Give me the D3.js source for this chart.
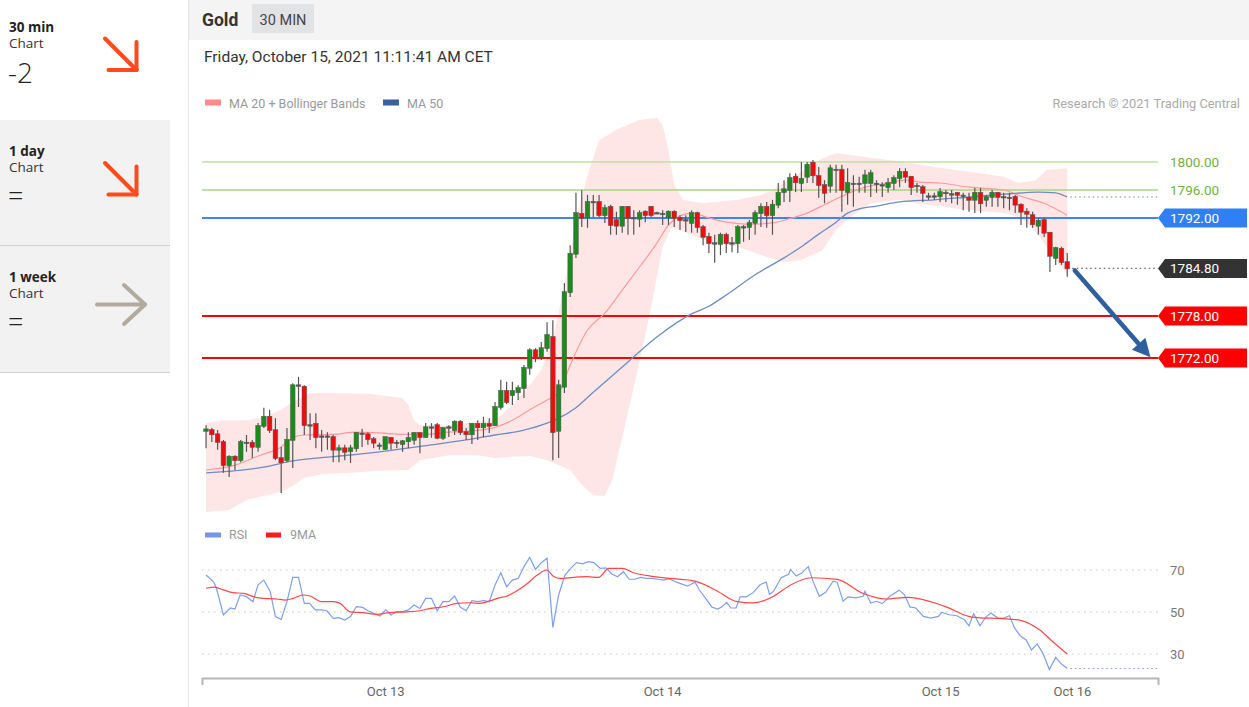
<!DOCTYPE html>
<html><head><meta charset="utf-8">
<script src="https://cdn.jsdelivr.net/npm/d3@7"></script>
<style>html,body{margin:0;padding:0;background:#fff;}svg{display:block;}</style>
</head><body>
<svg id="c" width="1249" height="707"></svg>
<script>
// ---------- DATA ----------
const candleOpen = [1761.6,1761.7,1761.1,1760.0,1756.7,1757.9,1757.4,1759.9,1759.9,1759.3,
1762.3,1763.6,1761.7,1757.7,1757.4,1760.3,1768.1,1767.9,1762.4,1762.6,
1760.8,1760.8,1760.7,1758.9,1759.1,1758.7,1759.1,1761.2,1761.1,1760.4,
1759.5,1759.0,1760.6,1759.9,1759.7,1760.1,1760.3,1761.3,1760.7,1762.1,
1762.4,1760.6,1762.1,1761.7,1762.9,1761.4,1761.1,1762.6,1762.1,1762.6,
1762.4,1765.0,1767.3,1766.7,1767.1,1767.7,1770.6,1773.1,1772.1,1773.4,
1775.0,1761.6,1767.9,1781.4,1786.9,1792.6,1792.1,1794.3,1794.3,1792.4,
1793.6,1791.7,1790.9,1793.6,1792.0,1791.9,1792.9,1793.6,1792.7,1792.6,
1792.1,1792.9,1792.0,1791.7,1791.3,1792.7,1790.7,1789.3,1788.4,1788.3,
1789.6,1788.4,1788.4,1790.7,1790.7,1791.3,1792.7,1793.6,1792.4,1793.9,
1795.7,1796.0,1797.9,1797.0,1797.9,1799.9,1798.0,1796.7,1796.6,1798.9,
1798.9,1795.7,1796.9,1796.9,1797.0,1797.0,1796.9,1796.7,1796.4,1797.0,
1797.7,1798.6,1797.9,1796.6,1796.4,1795.1,1795.1,1795.1,1795.6,1795.4,
1795.6,1795.2,1794.9,1794.6,1795.6,1794.6,1795.0,1795.6,1795.0,1794.9,
1795.0,1793.9,1792.9,1792.4,1790.9,1791.7,1789.9,1786.3,1787.6,1785.7];
const candleHigh = [1762.4,1762.0,1761.7,1760.3,1758.1,1758.1,1760.3,1761.0,1760.3,1762.7,
1764.9,1764.6,1763.4,1759.3,1762.0,1768.4,1769.3,1768.1,1764.1,1764.1,
1761.7,1761.4,1761.0,1759.6,1759.6,1759.6,1761.4,1761.9,1761.4,1760.7,
1759.9,1760.7,1760.7,1760.3,1760.3,1761.4,1761.4,1761.4,1762.7,1762.7,
1762.7,1762.1,1762.4,1763.1,1763.1,1762.0,1762.7,1763.1,1763.6,1763.4,
1765.7,1768.9,1768.6,1768.6,1768.1,1771.0,1773.4,1773.4,1774.3,1777.1,
1777.4,1768.9,1782.7,1788.1,1795.6,1796.0,1795.3,1795.3,1795.3,1793.9,
1793.9,1792.9,1793.7,1793.7,1793.1,1793.1,1793.1,1793.7,1792.9,1793.1,
1793.1,1793.1,1792.4,1792.4,1793.1,1792.9,1791.0,1789.9,1789.6,1789.9,
1789.9,1789.3,1791.0,1791.0,1791.7,1793.1,1794.1,1794.3,1794.6,1797.0,
1797.4,1798.4,1798.4,1800.0,1800.0,1800.3,1799.3,1797.4,1799.6,1799.6,
1799.6,1799.1,1798.1,1797.9,1798.9,1798.9,1797.4,1797.1,1797.7,1798.1,
1799.1,1799.1,1797.9,1797.0,1796.7,1795.6,1795.6,1796.3,1796.0,1796.0,
1795.7,1795.6,1795.6,1796.3,1796.3,1795.3,1796.0,1795.7,1795.6,1795.6,
1795.3,1794.1,1793.4,1792.9,1792.0,1792.0,1790.0,1787.9,1787.9,1787.0];
const candleLow = [1759.1,1760.0,1758.9,1755.6,1755.0,1756.0,1757.1,1758.6,1757.7,1758.6,
1762.0,1761.3,1757.4,1752.7,1757.1,1756.3,1765.0,1761.0,1760.3,1759.1,
1758.6,1758.9,1757.1,1757.1,1757.4,1757.0,1758.6,1759.3,1759.6,1759.1,
1758.9,1758.9,1758.9,1759.1,1758.6,1759.1,1759.6,1758.4,1760.6,1760.6,
1760.4,1760.3,1760.7,1761.0,1761.0,1760.3,1759.7,1760.3,1760.7,1761.3,
1762.3,1764.6,1765.4,1765.3,1766.0,1766.3,1769.6,1771.4,1771.7,1772.9,
1757.4,1757.7,1767.0,1780.7,1786.3,1790.7,1790.6,1792.1,1792.1,1791.3,
1789.6,1789.6,1789.9,1789.6,1789.6,1790.7,1791.4,1792.1,1792.6,1791.0,
1791.0,1790.7,1790.3,1790.0,1789.9,1789.9,1788.1,1787.0,1785.6,1786.7,
1787.0,1787.1,1787.0,1788.6,1788.9,1789.6,1790.7,1790.6,1789.6,1793.4,
1794.3,1794.3,1795.7,1795.7,1797.0,1797.0,1794.9,1794.1,1795.6,1795.6,
1792.9,1793.9,1793.6,1795.6,1795.6,1795.0,1795.6,1795.0,1795.6,1796.0,
1796.4,1797.0,1795.3,1795.6,1794.3,1794.6,1794.6,1794.3,1794.3,1794.1,
1793.9,1793.1,1792.9,1792.7,1792.7,1793.6,1793.6,1793.6,1793.4,1793.1,
1792.7,1791.0,1790.6,1790.6,1789.6,1789.3,1784.3,1785.3,1785.3,1783.6];
const candleClose = [1761.8,1761.1,1760.0,1756.7,1757.9,1757.4,1760.0,1759.9,1759.3,1762.3,
1763.6,1761.7,1757.7,1757.1,1760.3,1768.1,1768.1,1762.4,1762.4,1760.7,
1760.8,1760.8,1758.9,1759.1,1758.6,1759.1,1761.3,1761.2,1760.4,1759.9,
1759.5,1760.7,1759.9,1759.9,1760.1,1760.6,1761.3,1760.7,1762.1,1762.1,
1760.6,1762.0,1762.1,1762.9,1761.4,1761.1,1762.6,1762.1,1762.6,1762.3,
1765.0,1767.3,1765.7,1767.3,1767.7,1770.6,1773.1,1772.1,1773.4,1775.3,
1761.4,1768.1,1781.4,1786.9,1792.7,1792.0,1794.3,1794.3,1792.4,1793.4,
1791.0,1790.9,1793.6,1792.0,1792.0,1792.7,1792.4,1792.4,1792.7,1792.6,
1792.9,1792.0,1791.7,1791.7,1792.7,1790.7,1789.3,1788.4,1788.4,1789.6,
1788.4,1788.4,1790.7,1790.7,1791.3,1792.7,1793.6,1792.4,1793.9,1795.6,
1796.1,1797.7,1797.1,1797.6,1799.6,1798.1,1796.7,1795.6,1799.1,1798.9,
1796.0,1797.0,1796.9,1796.9,1798.1,1798.4,1796.9,1796.7,1797.0,1797.7,
1798.6,1797.9,1796.4,1796.6,1795.6,1795.1,1795.1,1795.7,1795.6,1795.4,
1795.3,1795.2,1794.6,1795.6,1794.1,1795.0,1795.6,1795.0,1795.0,1794.9,
1793.9,1792.9,1792.6,1791.1,1791.6,1789.9,1786.6,1787.7,1785.7,1784.8];

const ma20Idx = [0,5,9,13,15,17,22,26,30,34,38,42,46,50,53,56,59,61,63,66,69,72,75,78,80,82,84,87,90,94,98,101,104,107,110,114,118,121,124,127,132,138,141,145,149];
const ma20Val = [1756.0,1756.7,1758.0,1759.3,1760.6,1761.0,1761.1,1761.4,1761.3,1761.1,1761.1,1761.4,1761.6,1762.1,1763.1,1764.6,1766.0,1767.0,1771.0,1776.0,1778.4,1781.7,1785.0,1788.4,1791.0,1792.3,1792.7,1792.0,1791.4,1791.1,1791.3,1791.9,1792.7,1793.9,1795.1,1796.4,1797.0,1797.4,1797.1,1797.0,1796.4,1796.0,1795.1,1794.1,1792.4];

const ma50Idx = [0,10,15,22,30,39,45,50,55,59,61,64,67,72,78,84,87,90,95,100,103,106,109,111,113,116,120,126,132,138,144,147,149];
const ma50Val = [1755.6,1756.4,1757.3,1757.9,1758.6,1759.6,1760.3,1761.0,1761.7,1762.7,1763.4,1764.9,1767.1,1770.7,1775.0,1778.3,1779.4,1781.0,1783.9,1786.3,1787.9,1789.7,1791.4,1792.7,1793.3,1793.7,1794.3,1794.6,1795.0,1795.4,1795.7,1795.6,1795.0];

const bbUpIdx = [0,3,7,10,13,15,18,22,28,34,35,36,37,42,47,50,53,56,58,60,62,64,66,68,71,75,78,79,80,81,82.5,86,92,96,98,100,103,106,109,115,121,126,132,138,140.5,143.5,145.5,149];
const bbUpVal = [1762.7,1763.1,1763.1,1763.6,1764.6,1765.7,1767.0,1767.0,1766.9,1766.3,1765.3,1763.1,1762.4,1762.4,1762.9,1763.1,1765.3,1768.1,1770.3,1774.6,1782.4,1791.7,1798.1,1803.1,1804.6,1806.0,1806.3,1805.3,1801.7,1796.7,1794.6,1794.1,1794.6,1795.3,1796.0,1797.0,1798.6,1800.3,1801.3,1800.6,1800.0,1799.3,1798.6,1797.9,1797.0,1797.4,1798.9,1799.1];

const bbLoIdx = [0,4,7,10,13,15,17,20,25,30,35,37,42,47,50,53,56,59,61,63,65,67,69,70.3,71.5,72.5,74.5,76.8,79,80.5,82,86,92,96,100,103,106.6,109,111.4,115,120,123,132,138,141,144,147,149];
const bbLoVal = [1750.0,1750.3,1751.7,1752.3,1752.9,1753.7,1754.9,1755.4,1755.6,1755.9,1756.0,1757.4,1758.1,1758.1,1757.7,1757.9,1758.0,1757.4,1756.7,1756.0,1753.9,1752.4,1752.3,1754.6,1758.9,1762.4,1769.6,1778.4,1787.9,1790.6,1790.3,1788.9,1787.9,1786.7,1785.7,1786.0,1787.4,1790.3,1792.1,1794.1,1794.6,1794.1,1793.1,1792.7,1792.1,1789.6,1786.0,1783.9];

const rsiIdx = [0,1.3,1.8,3,4.2,5,5.9,7,8.1,9,10,11.1,12,13,14,15,16,17,17.9,18.9,20,20.9,22,23,24,25,26,27.1,28,29,30.1,31.1,32,33,34,35,36,37,38,39,40,41,42,43,44,45,46,47,48,49,50,51,52,53,54,55,56,57,58,59,60,61,62.1,63.1,64.1,65.2,66.1,67.1,68.2,69.2,70.2,71.2,72.2,73.2,74.2,75.2,76.2,77.3,78.2,79.1,80.1,81.4,83.3,84.6,85.3,86.6,87.5,88.5,89.2,90.1,90.8,91.7,92.4,93.5,94.6,95.9,96.9,97.5,98.2,99.5,100.8,101.1,102.1,103,104.2,105,106.1,107.2,108.5,109.2,110.2,111.1,112.4,113.7,114,115,116,117,118.3,119.9,120.8,121.8,122.8,124.1,125.4,126.7,127.3,128.6,129.9,131.2,132,132.8,133.9,134.9,135.8,137,138,139,139.9,140.9,141.9,142.8,143.8,144.8,145.9,147,148,149];
const rsiVal = [67.6,64.4,61.3,48.6,51.9,51.4,58.1,57.3,54.9,62.9,65.2,59.7,47.8,46.5,54.9,66.5,66.5,54.1,54.1,51.0,51.0,50.6,47.0,47.3,46.2,47.8,52.5,52.2,50.6,49.4,48.1,51.0,48.6,50.2,50.2,51.0,53.3,51.7,56.5,56.5,50.6,54.9,54.9,57.6,52.2,50.6,55.4,54.9,55.4,54.9,62.9,68.7,62.0,65.2,66.0,71.6,76.0,70.3,73.5,75.6,42.7,58.1,67.6,70.8,73.5,72.9,74.0,73.5,70.8,71.0,68.1,66.8,69.2,65.6,65.6,66.5,66.0,66.0,65.6,65.2,65.8,64.2,62.3,64.2,60.7,55.9,52.4,51.4,52.4,54.6,51.9,51.9,57.2,57.2,59.1,63.1,64.2,58.3,59.9,66.3,67.9,70.3,67.1,68.4,71.6,64.7,57.5,59.4,64.7,64.2,55.1,57.2,56.7,57.5,59.9,54.3,55.1,54.0,57.5,60.4,58.3,52.4,51.9,47.9,47.1,47.9,49.8,48.7,48.2,46.3,43.4,49.2,43.4,47.6,49.5,47.1,47.1,48.2,42.3,38.6,36.7,31.9,34.8,30.3,22.6,28.4,25.2,23.1];

const rsiMaIdx = [0,1.5,3,4.7,6.5,8.2,10,12.3,13.7,15.1,16.8,18,20,22,23.2,24.9,27.2,29.5,31.8,34.7,37,38.8,41.1,43.4,45.7,47.4,49.2,50.4,52.1,53.8,55.6,57.3,58.9,60.2,61.3,63.6,65.9,67.9,69.7,72,74,76.9,80.2,84.6,88.5,91.7,94.6,98.2,100.8,104.7,109.2,113.7,117.6,121.5,127.8,132.5,139,140.9,144.2,146.8,149];
const rsiMaVal = [61.3,61.8,60.5,59.2,58.9,57.3,56.5,56.2,55.7,56.5,58.1,57.6,54.9,54.9,54.1,50.1,49.7,48.9,49.7,50.1,50.6,51.7,52.5,54.1,54.4,54.1,55.4,56.5,57.6,60.1,63.6,67.6,70.0,66.8,66.0,66.5,66.8,66.5,70.8,70.8,68.7,67.1,66.0,64.7,59.9,55.1,54.3,57.5,62.3,66.3,65.5,58.8,56.2,57.0,52.7,47.6,46.6,46.0,41.5,35.1,30.0];

const levelPrices = [1800, 1796, 1792, 1784.80, 1778, 1772];
const levelLabels = ["1800.00","1796.00","1792.00","1784.80","1778.00","1772.00"];
const rsiLevels = [70, 50, 30];
const tickIdx = [31, 78.9, 127, 149.8];
const tickLabels = ["Oct 13","Oct 14","Oct 15","Oct 16"];
const arrowIdx = [150.3, 163.4];
const arrowPrice = [1784.5, 1772.1];

// ---------- SETUP ----------
const svg = d3.select("#c");
const FONT = "Roboto, 'Liberation Sans', Arial, sans-serif";
const LFONT = "'Open Sans', Lato, sans-serif";

// left panel
svg.append("rect").attr("x",0).attr("y",0).attr("width",170).attr("height",120).attr("fill","#fff");
svg.append("rect").attr("x",0).attr("y",120).attr("width",170).attr("height",252).attr("fill","#f2f2f2");
svg.append("line").attr("x1",0).attr("x2",170).attr("y1",245.5).attr("y2",245.5).attr("stroke","#cfcfcf");
svg.append("line").attr("x1",0).attr("x2",170).attr("y1",372.5).attr("y2",372.5).attr("stroke","#cfcfcf");
const leftBlocks = [
  {t:"30 min", v:"-2", y:32, vy:83, vs:28},
  {t:"1 day", v:"=", y:156, vy:206, vs:27},
  {t:"1 week", v:"=", y:282, vy:332, vs:27}
];
leftBlocks.forEach(b=>{
  svg.append("text").attr("x",9).attr("y",b.y).text(b.t)
    .attr("font-family",LFONT).attr("font-weight",700).attr("font-size",13.5).attr("fill","#222");
  svg.append("text").attr("x",9).attr("y",b.y+16).text("Chart")
    .attr("font-family",LFONT).attr("font-size",13.5).attr("fill","#333");
  svg.append("text").attr("x",8).attr("y",b.vy).text(b.v)
    .attr("font-family",LFONT).attr("font-weight",300).attr("font-size",b.vs).attr("fill","#222");
});
function downArrow(y0){
  const g = svg.append("g").attr("stroke","#ff4b1c").attr("stroke-width",4).attr("stroke-linecap","round").attr("fill","none");
  g.append("line").attr("x1",105).attr("y1",y0).attr("x2",136.5).attr("y2",y0+31.5);
  g.append("line").attr("x1",136.5).attr("y1",y0+3.5).attr("x2",136.5).attr("y2",y0+31.5);
  g.append("line").attr("x1",108.5).attr("y1",y0+31.5).attr("x2",136.5).attr("y2",y0+31.5);
}
downArrow(38.5); downArrow(163);
{
  const g = svg.append("g").attr("stroke","#b3aa9e").attr("stroke-width",4).attr("stroke-linecap","round").attr("fill","none");
  g.append("line").attr("x1",97).attr("y1",304.5).attr("x2",145).attr("y2",304.5);
  g.append("line").attr("x1",124).attr("y1",285).attr("x2",145).attr("y2",304.5);
  g.append("line").attr("x1",124).attr("y1",324).attr("x2",145).attr("y2",304.5);
}
svg.append("line").attr("x1",188.5).attr("x2",188.5).attr("y1",0).attr("y2",707).attr("stroke","#e6e6e6");

// header
svg.append("rect").attr("x",189).attr("y",0).attr("width",1060).attr("height",40).attr("fill","#f4f4f4");
svg.append("text").attr("x",202).attr("y",25.5).text("Gold").attr("font-family",FONT).attr("font-weight",700).attr("font-size",17.5).attr("fill","#333");
svg.append("rect").attr("x",252).attr("y",4).attr("width",62).attr("height",29).attr("fill","#e2e3e5");
svg.append("text").attr("x",283).attr("y",24.5).attr("text-anchor","middle").text("30 MIN").attr("font-family",FONT).attr("font-size",14.5).attr("fill","#444");
svg.append("text").attr("x",204).attr("y",61.5).text("Friday, October 15, 2021 11:11:41 AM CET").attr("font-family",FONT).attr("font-size",15.5).attr("fill","#333");

// legend
svg.append("rect").attr("x",205).attr("y",99.5).attr("width",16).attr("height",6).attr("fill","#ff8a8a");
svg.append("text").attr("x",229).attr("y",107.5).text("MA 20 + Bollinger Bands").attr("font-family",FONT).attr("font-size",12.5).attr("fill","#999");
svg.append("rect").attr("x",383).attr("y",99.5).attr("width",16).attr("height",6).attr("fill","#3b5f9f");
svg.append("text").attr("x",407).attr("y",107.5).text("MA 50").attr("font-family",FONT).attr("font-size",12.5).attr("fill","#999");
svg.append("text").attr("x",1240).attr("y",107.5).attr("text-anchor","end").text("Research © 2021 Trading Central").attr("font-family",FONT).attr("font-size",12.8).attr("fill","#aaa");

// scales
const x = d3.scaleLinear().domain([-0.7, 164.7]).range([202, 1158]);
const yP = d3.scaleLinear().domain([1750, 1800]).range([512, 162]);
const yR = d3.scaleLinear().domain([30, 70]).range([654, 570]);

// bollinger band
const bandPts = bbUpIdx.map((d,i)=>[x(d), yP(bbUpVal[i])])
  .concat(bbLoIdx.map((d,i)=>[x(d), yP(bbLoVal[i])]).reverse());
svg.append("path").attr("d", d3.line().curve(d3.curveLinear)(bandPts)+"Z").attr("fill","#ffe3e3").attr("opacity",0.9);

// level lines
const levelColor = ["#bfe0a0","#a9d486","#3d86f2","none","#ff0000","#ff0000"];
const levelWidth = [1.5,1.5,2,0,2,2];
levelPrices.forEach((p,i)=>{
  if (levelColor[i]==="none") return;
  svg.append("line").attr("x1",202).attr("x2",1158).attr("y1",yP(p)).attr("y2",yP(p))
    .attr("stroke",levelColor[i]).attr("stroke-width",levelWidth[i]);
});

// MA lines
const lineGen = d3.line().curve(d3.curveMonotoneX);
svg.append("path").attr("d", lineGen(ma20Idx.map((d,i)=>[x(d), yP(ma20Val[i])])))
  .attr("fill","none").attr("stroke","#ff9a9a").attr("stroke-width",1.2);
svg.append("path").attr("d", lineGen(ma50Idx.map((d,i)=>[x(d), yP(ma50Val[i])])))
  .attr("fill","none").attr("stroke","#6c8cc2").attr("stroke-width",1.3);
const lastMa50 = ma50Val[ma50Val.length-1];
svg.append("line").attr("x1",x(ma50Idx[ma50Idx.length-1])+3).attr("x2",1158).attr("y1",yP(lastMa50)).attr("y2",yP(lastMa50))
  .attr("stroke","#6c8cc2").attr("stroke-width",1.2).attr("stroke-dasharray","1.5,3");

// candles
const cg = svg.append("g");
candleOpen.forEach((o,i)=>{
  const c = candleClose[i], h = candleHigh[i], l = candleLow[i];
  const cx = x(i);
  cg.append("line").attr("x1",cx).attr("x2",cx).attr("y1",yP(h)).attr("y2",yP(l)).attr("stroke","#555").attr("stroke-width",1.2);
  const top = yP(Math.max(o,c)), bot = yP(Math.min(o,c));
  const fill = Math.abs(c-o) < 0.05 ? "#555" : (c > o ? "#1c8a1c" : "#ee0d0d");
  cg.append("rect").attr("x",cx-2.3).attr("y",top-0.5).attr("width",4.6).attr("height",Math.max(1.5, bot-top+1))
    .attr("fill",fill).attr("stroke","#555").attr("stroke-width",0.5);
});

// last price dotted
const lastClose = candleClose[candleClose.length-1];
svg.append("line").attr("x1",x(149)+5).attr("x2",1158).attr("y1",yP(lastClose)).attr("y2",yP(lastClose))
  .attr("stroke","#666").attr("stroke-width",1.2).attr("stroke-dasharray","1.5,3");

// forecast arrow
const ax0 = x(arrowIdx[0]), ay0 = yP(arrowPrice[0]), ax1 = x(arrowIdx[1]), ay1 = yP(arrowPrice[1]);
const ang = Math.atan2(ay1-ay0, ax1-ax0);
const hl = 18, hw = 9;
const bx = ax1 - hl*Math.cos(ang), by = ay1 - hl*Math.sin(ang);
svg.append("line").attr("x1",ax0).attr("y1",ay0).attr("x2",bx).attr("y2",by).attr("stroke","#2f5f9f").attr("stroke-width",4.5).attr("stroke-linecap","round");
svg.append("path").attr("d",`M${ax1},${ay1}L${bx - hw*Math.sin(ang)},${by + hw*Math.cos(ang)}L${bx + hw*Math.sin(ang)},${by - hw*Math.cos(ang)}Z`).attr("fill","#2f5f9f");

// level labels
const labelFill = ["none","none","#2f7ff5","#333333","#ff0000","#ff0000"];
const labelText = ["#6db23e","#6db23e","#fff","#fff","#fff","#fff"];
levelPrices.forEach((p,i)=>{
  const y = yP(p);
  if (labelFill[i] !== "none") {
    svg.append("path").attr("d",`M1158,${y}L1165,${y-9.5}L1247,${y-9.5}L1247,${y+9.5}L1165,${y+9.5}Z`).attr("fill",labelFill[i]);
  }
  svg.append("text").attr("x",1170).attr("y",y+5).text(levelLabels[i]).attr("font-family",FONT).attr("font-size",13.5).attr("fill",labelText[i]);
});

// RSI panel
svg.append("rect").attr("x",205).attr("y",532.5).attr("width",16).attr("height",5).attr("fill","#7596e6");
svg.append("text").attr("x",229).attr("y",538.5).text("RSI").attr("font-family",FONT).attr("font-size",12.5).attr("fill","#999");
svg.append("rect").attr("x",266).attr("y",532.5).attr("width",15).attr("height",5).attr("fill","#ff1a1a");
svg.append("text").attr("x",290).attr("y",538.5).text("9MA").attr("font-family",FONT).attr("font-size",12.5).attr("fill","#999");
rsiLevels.forEach(v=>{
  svg.append("line").attr("x1",202).attr("x2",1158).attr("y1",yR(v)).attr("y2",yR(v)).attr("stroke","#c4c4c4").attr("stroke-width",1).attr("stroke-dasharray","1.5,4.5");
  svg.append("text").attr("x",1170).attr("y",yR(v)+5).text(v).attr("font-family",FONT).attr("font-size",13).attr("fill","#777");
});
svg.append("path").attr("d", d3.line()(rsiIdx.map((d,i)=>[x(d), yR(rsiVal[i])])))
  .attr("fill","none").attr("stroke","#7d9ff0").attr("stroke-width",1.2);
svg.append("path").attr("d", lineGen(rsiMaIdx.map((d,i)=>[x(d), yR(rsiMaVal[i])])))
  .attr("fill","none").attr("stroke","#ff4747").attr("stroke-width",1.2);
const lastRsi = rsiVal[rsiVal.length-1];
svg.append("line").attr("x1",x(rsiIdx[rsiIdx.length-1])+3).attr("x2",1158).attr("y1",yR(lastRsi)).attr("y2",yR(lastRsi))
  .attr("stroke","#7d9ff0").attr("stroke-width",1.2).attr("stroke-dasharray","1.5,3");

// x axis
const axis = d3.axisBottom(x).tickValues(tickIdx).tickFormat((d,i)=>tickLabels[i]).tickSizeInner(0).tickSizeOuter(7).tickPadding(9);
const ag = svg.append("g").attr("transform","translate(0,678)").call(axis);
ag.select(".domain").attr("stroke","#b5b5b5").attr("stroke-width",2);
ag.selectAll("text").attr("font-family",FONT).attr("font-size",13).attr("fill","#666");
</script>
</body></html>
